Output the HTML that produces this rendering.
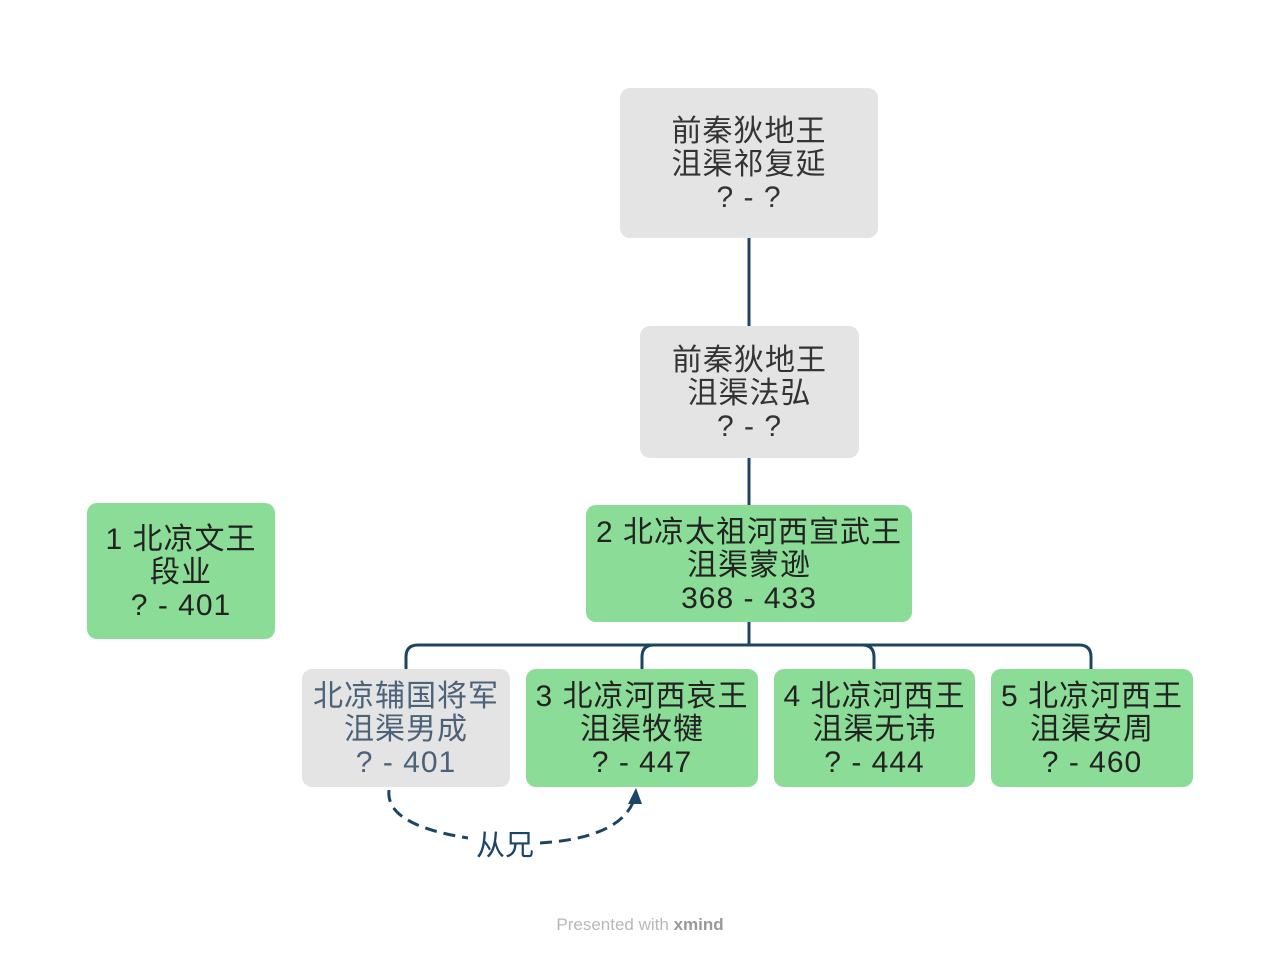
<!DOCTYPE html>
<html><head><meta charset="utf-8"><style>
body{margin:0;width:1280px;height:955px;background:#fff;position:relative;overflow:hidden;font-family:"Liberation Sans","Noto Sans CJK SC",sans-serif}
.n{position:absolute;border-radius:10px;display:flex;align-items:center;justify-content:center;text-align:center;font-size:30px;line-height:33px;letter-spacing:1px;color:#222;white-space:nowrap;padding-top:3px;box-sizing:border-box}
.g{background:#e4e4e4;color:#333}
.gb{background:#e4e4e4;color:#4b6278}
.v{background:#8bdc97}
.f{position:absolute;left:0;width:1280px;top:915px;text-align:center;font-size:17px;color:#b8b8b8}
</style></head><body>
<svg width="1280" height="955" style="position:absolute;left:0;top:0">
<g stroke="#1c4563" stroke-width="3" fill="none">
<line x1="749" y1="238" x2="749" y2="326"/>
<line x1="749" y1="458" x2="749" y2="505"/>
<line x1="749" y1="622" x2="749" y2="645"/>
<path d="M406 669 V657 Q406 645 418 645 H1079 Q1091 645 1091 657 V669"/>
<path d="M642 669 V657 Q642 645 654 645"/>
<path d="M862 645 Q874 645 874 657 V669"/>
<path d="M389 790 Q385 825 468 838" stroke-dasharray="12,7"/>
<path d="M540 843 Q620 838 634 800" stroke-dasharray="12,7"/>
</g>
<polygon points="636,788 628,804 642,804" fill="#1c4563"/>
<text x="505" y="855" font-size="29" fill="#1c4563" text-anchor="middle" font-family="Liberation Sans,Noto Sans CJK SC,sans-serif">从兄</text>
</svg>
<div class="n g" style="left:620px;top:88px;width:258px;height:150px">前秦狄地王<br>沮渠祁复延<br>? - ?</div>
<div class="n g" style="left:640px;top:326px;width:219px;height:132px">前秦狄地王<br>沮渠法弘<br>? - ?</div>
<div class="n v" style="left:586px;top:505px;width:326px;height:117px">2 北凉太祖河西宣武王<br>沮渠蒙逊<br>368 - 433</div>
<div class="n v" style="left:87px;top:503px;width:188px;height:136px">1 北凉文王<br>段业<br>? - 401</div>
<div class="n gb" style="left:302px;top:669px;width:208px;height:118px">北凉辅国将军<br>沮渠男成<br>? - 401</div>
<div class="n v" style="left:526px;top:669px;width:232px;height:118px">3 北凉河西哀王<br>沮渠牧犍<br>? - 447</div>
<div class="n v" style="left:774px;top:669px;width:201px;height:118px">4 北凉河西王<br>沮渠无讳<br>? - 444</div>
<div class="n v" style="left:991px;top:669px;width:202px;height:118px">5 北凉河西王<br>沮渠安周<br>? - 460</div>
<div class="f">Presented with <b style="color:#999">xmind</b></div>
</body></html>
